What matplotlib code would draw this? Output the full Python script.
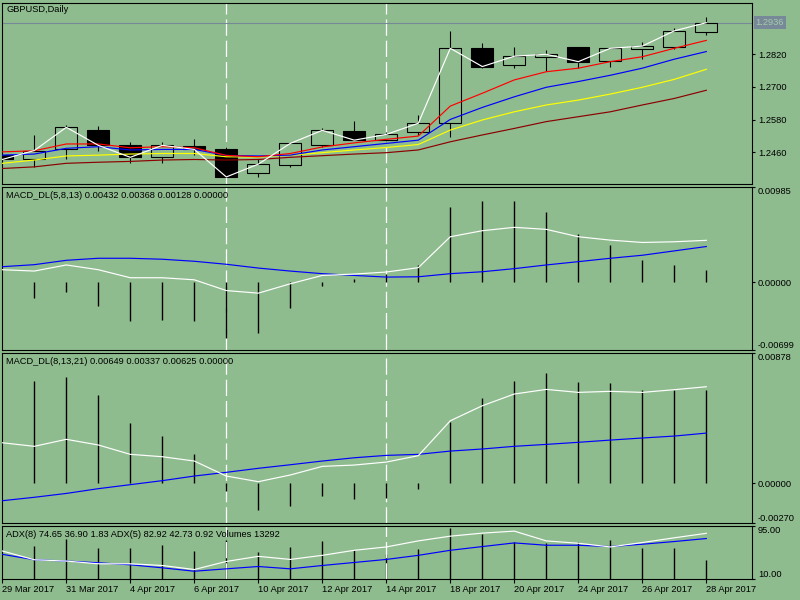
import matplotlib
matplotlib.use("Agg")
import matplotlib.pyplot as plt
import numpy as np

BG = "#8FBC8F"
FS = 6.7
LW = 0.85
plt.rcParams["font.family"] = ["Liberation Sans", "DejaVu Sans"]

dates = ["29 Mar 2017", "30 Mar 2017", "31 Mar 2017", "3 Apr 2017", "4 Apr 2017",
         "5 Apr 2017", "6 Apr 2017", "7 Apr 2017", "10 Apr 2017", "11 Apr 2017",
         "12 Apr 2017", "13 Apr 2017", "14 Apr 2017", "17 Apr 2017", "18 Apr 2017",
         "19 Apr 2017", "20 Apr 2017", "21 Apr 2017", "24 Apr 2017", "25 Apr 2017",
         "26 Apr 2017", "27 Apr 2017", "28 Apr 2017"]

opens = [1.2450, 1.2434, 1.2472, 1.2542, 1.2486, 1.2442, 1.2483, 1.2472, 1.2383, 1.2415, 1.2488, 1.2537,
         1.2505, 1.2534, 1.2567, 1.2842, 1.2780, 1.2811, 1.2846, 1.2794, 1.2841, 1.2846, 1.2901]
highs = [1.2456, 1.2524, 1.2559, 1.2557, 1.2498, 1.2498, 1.2510, 1.2481, 1.2434, 1.2493, 1.2549, 1.2574,
         1.2536, 1.2597, 1.2906, 1.2861, 1.2846, 1.2836, 1.2846, 1.2844, 1.2864, 1.2916, 1.2958]
lows = [1.2428, 1.2407, 1.2434, 1.2466, 1.2420, 1.2422, 1.2449, 1.2369, 1.2368, 1.2405, 1.2481, 1.2505,
        1.2503, 1.2524, 1.2515, 1.2769, 1.2771, 1.2759, 1.2771, 1.2775, 1.2804, 1.2839, 1.2890]
closes = [1.2434, 1.2467, 1.2552, 1.2486, 1.2442, 1.2486, 1.2471, 1.2370, 1.2417, 1.2493, 1.2541, 1.2505,
          1.2526, 1.2567, 1.2842, 1.2775, 1.2813, 1.2820, 1.2793, 1.2842, 1.2850, 1.2906, 1.2936]

ma_red = [1.2462, 1.2466, 1.2491, 1.2491, 1.2477, 1.2481, 1.2477, 1.2449, 1.2444, 1.2456, 1.2480, 1.2495,
          1.2508, 1.2520, 1.2630, 1.2677, 1.2726, 1.2756, 1.2769, 1.2793, 1.2811, 1.2842, 1.2871]
ma_blue = [1.2450, 1.2454, 1.2475, 1.2481, 1.2469, 1.2471, 1.2471, 1.2449, 1.2447, 1.2450, 1.2469, 1.2481,
           1.2493, 1.2505, 1.2581, 1.2625, 1.2664, 1.2699, 1.2720, 1.2743, 1.2769, 1.2802, 1.2830]
ma_yellow = [1.2420, 1.2432, 1.2447, 1.2450, 1.2454, 1.2456, 1.2456, 1.2444, 1.2443, 1.2450, 1.2459, 1.2469,
             1.2478, 1.2489, 1.2542, 1.2579, 1.2609, 1.2634, 1.2652, 1.2674, 1.2699, 1.2728, 1.2765]
ma_darkred = [1.2401, 1.2407, 1.2420, 1.2424, 1.2427, 1.2432, 1.2434, 1.2432, 1.2434, 1.2442, 1.2448, 1.2454,
              1.2459, 1.2469, 1.2499, 1.2524, 1.2548, 1.2573, 1.2591, 1.2609, 1.2634, 1.2658, 1.2688]

m1_main = [0.00129, 0.00115, 0.00178, 0.00129, 0.00046, 0.00046, 0.00025, -0.00086, -0.00113, -0.00016,
           0.00070, 0.00084, 0.00105, 0.00150, 0.00469, 0.00531, 0.00566, 0.00545, 0.00469, 0.00434,
           0.00410, 0.00417, 0.00432]
m1_signal = [0.00160, 0.00181, 0.00226, 0.00247, 0.00247, 0.00237, 0.00216, 0.00185, 0.00146, 0.00115,
             0.00088, 0.00070, 0.00053, 0.00056, 0.00088, 0.00108, 0.00140, 0.00178, 0.00212, 0.00247,
             0.00278, 0.00323, 0.00368]
m1_hist = [-0.00060, -0.00166, -0.00104, -0.00243, -0.00405, -0.00385, -0.00395, -0.00572, -0.00520,
           -0.00270, -0.00035, 0.00030, 0.00087, 0.00180, 0.00773, 0.00839, 0.00839, 0.00724, 0.00496,
           0.00381, 0.00225, 0.00173, 0.00128]

m2_main = [0.00272, 0.00248, 0.00295, 0.00257, 0.00194, 0.00178, 0.00149, 0.00048, 0.00010, 0.00055,
           0.00113, 0.00122, 0.00142, 0.00185, 0.00420, 0.00521, 0.00600, 0.00631, 0.00611, 0.00618,
           0.00611, 0.00629, 0.00649]
m2_signal = [-0.00118, -0.00095, -0.00069, -0.00037, -0.00010, 0.00017, 0.00048, 0.00073, 0.00100, 0.00124,
             0.00149, 0.00171, 0.00187, 0.00194, 0.00216, 0.00230, 0.00248, 0.00261, 0.00275, 0.00290,
             0.00304, 0.00317, 0.00337]
m2_hist = [0.00780, 0.00686, 0.00713, 0.00592, 0.00406, 0.00316, 0.00195, -0.00056, -0.00182, -0.00153,
           -0.00087, -0.00108, -0.00099, -0.00038, 0.00413, 0.00574, 0.00686, 0.00740, 0.00680, 0.00673,
           0.00626, 0.00626, 0.00625]

adx5 = [54.9, 41.0, 38.9, 34.6, 34.6, 31.9, 25.5, 38.3, 46.4, 41.5, 48.0, 56.0, 61.3, 70.9, 78.4, 83.2,
        86.4, 70.9, 67.2, 61.3, 68.3, 75.8, 82.92]
adx8 = [49.6, 41.0, 38.9, 36.2, 33.0, 28.2, 22.8, 26.6, 30.3, 26.6, 31.9, 36.7, 41.5, 48.0, 56.0, 61.9,
        67.7, 64.0, 64.0, 61.9, 65.6, 69.9, 74.65]
volumes = [22000, 22900, 27700, 21500, 21500, 23600, 19500, 26400, 18300, 22200, 25700, 20200, 17400,
           20900, 34600, 30500, 25400, 24800, 25400, 26400, 21500, 21500, 13292]

separators = [7, 12]
bid = 1.2936

x = np.arange(len(dates))
fig = plt.figure(figsize=(8, 6), dpi=100, facecolor=BG)


def panel(top, bottom):
    ax = fig.add_axes([2.3 / 800, 1 - bottom / 600, 750 / 800, (bottom - top) / 600])
    ax.set_facecolor(BG)
    ax.set_xlim(-0.0001, 23.4375)
    for s in ax.spines.values():
        s.set_linewidth(0.8)
        s.set_color("black")
    ax.tick_params(axis="x", bottom=False, labelbottom=False)
    for s in separators:
        ax.axvline(s, color="white", lw=0.9, ls=(0, (13, 4)), zorder=1)
    return ax


def right_ticks(ax):
    ax.yaxis.tick_right()
    ax.tick_params(axis="y", direction="out", length=2.5, width=0.8, pad=1.5, labelsize=FS)


# main price window
ax1 = panel(2.5, 184.3)
right_ticks(ax1)
ax1.set_ylim(1.2343, 1.3010)
ax1.set_yticks([1.2460, 1.2580, 1.2700, 1.2820])
ax1.set_yticklabels(["%.4f" % v for v in [1.2460, 1.2580, 1.2700, 1.2820]])
ax1.axhline(bid, color="#778899", lw=0.8, zorder=1)
ax1.vlines(x, lows, highs, colors="black", lw=0.8, zorder=2)
bodies = np.abs(np.array(closes) - np.array(opens))
bottoms = np.minimum(opens, closes)
fills = ["black" if c < o else BG for o, c in zip(opens, closes)]
ax1.bar(x, bodies, bottom=bottoms, width=0.69, color=fills, edgecolor="black", lw=0.8, zorder=3)
ax1.plot(x, ma_darkred, color="#8B0000", lw=LW, zorder=4)
ax1.plot(x, ma_yellow, color="#FFFF00", lw=LW, zorder=4)
ax1.plot(x, ma_blue, color="#0000FF", lw=LW, zorder=4)
ax1.plot(x, ma_red, color="#FF0000", lw=LW, zorder=4)
ax1.plot(x, closes, color="white", lw=LW, zorder=5)
ax1.text(1.0045, bid, "%.4f" % bid, transform=ax1.get_yaxis_transform(), va="center", ha="left",
         fontsize=FS, color="#A8CCA8",
         bbox=dict(boxstyle="square,pad=0.18", fc="#778899", ec="none"))

# MACD windows
ax2 = panel(186.7, 350)
right_ticks(ax2)
ax2.set_ylim(-0.00699, 0.00985)
ax2.set_yticks([-0.00699, 0.0, 0.00985])
ax2.set_yticklabels(["-0.00699", "0.00000", "0.00985"])
ax2.vlines(x[1:], 0, m1_hist[1:], colors="black", lw=1, zorder=2)
ax2.plot(x, m1_signal, color="#0000FF", lw=LW, zorder=3)
ax2.plot(x, m1_main, color="white", lw=LW, zorder=3)

ax3 = panel(352.7, 523.3)
right_ticks(ax3)
ax3.set_ylim(-0.00270, 0.00878)
ax3.set_yticks([-0.00270, 0.0, 0.00878])
ax3.set_yticklabels(["-0.00270", "0.00000", "0.00878"])
ax3.vlines(x[1:], 0, m2_hist[1:], colors="black", lw=1, zorder=2)
ax3.plot(x, m2_signal, color="#0000FF", lw=LW, zorder=3)
ax3.plot(x, m2_main, color="white", lw=LW, zorder=3)

# ADX + volumes window
ax4 = panel(525.7, 579.3)
vol = ax4.twinx()
vol.set_xlim(ax4.get_xlim())
vol.set_ylim(0, 36440)
vol.vlines(x[1:], 0, volumes[1:], colors="black", lw=1)
vol.axis("off")
ax4.set_zorder(vol.get_zorder() + 1)
ax4.patch.set_visible(False)
vol.patch.set_visible(False)
right_ticks(ax4)
ax4.set_ylim(10, 95)
ax4.set_yticks([10, 95])
ax4.set_yticklabels(["10.00", "95.00"])
ax4.plot(x, adx8, color="#0000FF", lw=LW, zorder=3)
ax4.plot(x, adx5, color="white", lw=LW, zorder=3)
ax4.set_xticks(x[::2])
ax4.set_xticklabels(dates[::2], ha="left")
ax4.tick_params(axis="x", bottom=True, labelbottom=True, direction="out", length=3,
                width=0.8, pad=0.8, labelsize=FS)

for ax in (ax2, ax3, ax4):
    labs = ax.get_yticklabels()
    labs[0].set_va("bottom")
    labs[-1].set_va("top")

fig.text(6.7 / 800, 1 - 10 / 600, "GBPUSD,Daily", va="center", ha="left", fontsize=FS)
fig.text(6 / 800, 1 - 195.7 / 600, "MACD_DL(5,8,13) 0.00432 0.00368 0.00128 0.00000",
         va="center", ha="left", fontsize=FS)
fig.text(6 / 800, 1 - 361.7 / 600, "MACD_DL(8,13,21) 0.00649 0.00337 0.00625 0.00000",
         va="center", ha="left", fontsize=FS)
fig.text(6 / 800, 1 - 534.3 / 600, "ADX(8) 74.65 36.90 1.83 ADX(5) 82.92 42.73 0.92 Volumes 13292",
         va="center", ha="left", fontsize=FS)

fig.savefig("out.png", dpi=100, facecolor=BG)
